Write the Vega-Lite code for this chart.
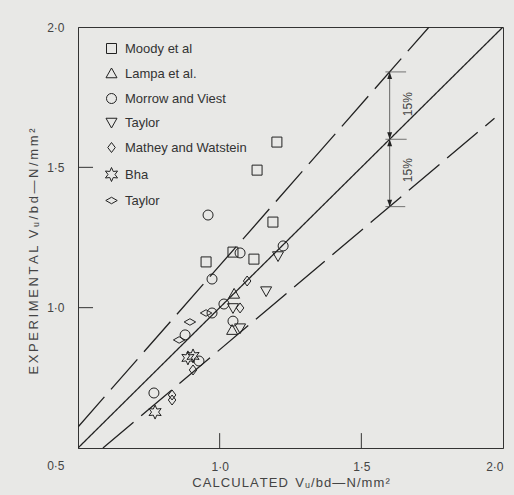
{
  "$schema": "https://vega.github.io/schema/vega-lite/v6.json",
  "width": 425,
  "height": 421,
  "autosize": {"type": "none"},
  "padding": {"left": 78, "top": 27, "right": 11, "bottom": 47},
  "background": "#e8e8e6",
  "config": {
    "view": {"stroke": "#333", "strokeWidth": 1},
    "font": "Liberation Sans",
    "axis": {
      "grid": false,
      "ticks": false,
      "domainColor": "#333",
      "domainWidth": 1,
      "labelColor": "#444",
      "labelFontSize": 12,
      "labelFont": "Liberation Sans",
      "titleColor": "#444",
      "titleFontSize": 13,
      "titleFontWeight": "normal",
      "titleFont": "Liberation Sans"
    }
  },
  "datasets": {
    "pts": [
      {"series": "Moody et al", "x": 1.202, "y": 1.59},
      {"series": "Moody et al", "x": 1.132, "y": 1.49},
      {"series": "Moody et al", "x": 1.188, "y": 1.305},
      {"series": "Moody et al", "x": 1.047, "y": 1.198},
      {"series": "Moody et al", "x": 0.952, "y": 1.163},
      {"series": "Moody et al", "x": 1.121, "y": 1.173},
      {"series": "Lampa et al.", "x": 1.051, "y": 1.049},
      {"series": "Lampa et al.", "x": 1.044, "y": 0.92},
      {"series": "Morrow and Viest", "x": 0.959, "y": 1.33},
      {"series": "Morrow and Viest", "x": 1.072, "y": 1.195},
      {"series": "Morrow and Viest", "x": 1.224, "y": 1.22},
      {"series": "Morrow and Viest", "x": 0.973, "y": 1.102},
      {"series": "Morrow and Viest", "x": 1.015, "y": 1.013},
      {"series": "Morrow and Viest", "x": 0.973, "y": 0.981},
      {"series": "Morrow and Viest", "x": 0.878, "y": 0.903},
      {"series": "Morrow and Viest", "x": 1.047, "y": 0.952},
      {"series": "Morrow and Viest", "x": 0.927, "y": 0.81},
      {"series": "Morrow and Viest", "x": 0.768, "y": 0.696},
      {"series": "Taylor", "x": 1.206, "y": 1.184},
      {"series": "Taylor", "x": 1.164, "y": 1.059},
      {"series": "Taylor", "x": 1.047, "y": 0.999},
      {"series": "Taylor", "x": 1.072, "y": 0.927},
      {"series": "Mathey and Watstein", "x": 1.097, "y": 1.095},
      {"series": "Mathey and Watstein", "x": 1.072, "y": 0.999},
      {"series": "Mathey and Watstein", "x": 0.906, "y": 0.778},
      {"series": "Mathey and Watstein", "x": 0.832, "y": 0.689},
      {"series": "Mathey and Watstein", "x": 0.832, "y": 0.671},
      {"series": "Bha", "x": 0.888, "y": 0.821},
      {"series": "Bha", "x": 0.906, "y": 0.828},
      {"series": "Bha", "x": 0.772, "y": 0.628},
      {"series": "Taylor ", "x": 0.952, "y": 0.981},
      {"series": "Taylor ", "x": 0.895, "y": 0.949},
      {"series": "Taylor ", "x": 0.857, "y": 0.885}
    ],
    "lines": [
      {"line": "solid", "x": 0.5, "y": 0.5},
      {"line": "solid", "x": 2.0, "y": 2.0},
      {"line": "upper", "x": 0.5, "y": 0.575},
      {"line": "upper", "x": 1.739, "y": 2.0},
      {"line": "lower", "x": 0.588, "y": 0.5},
      {"line": "lower", "x": 1.97, "y": 1.675}
    ],
    "xticks": [
      {"x": 1.0, "y": 0.5, "y2": 0.553},
      {"x": 1.5, "y": 0.5, "y2": 0.553}
    ],
    "yticks": [
      {"x": 0.5, "x2": 0.553, "y": 1.0},
      {"x": 0.5, "x2": 0.553, "y": 1.5}
    ],
    "vrule": [{"x": 1.6, "y": 1.36, "y2": 1.84}],
    "hticks": [
      {"x": 1.585, "x2": 1.658, "y": 1.84},
      {"x": 1.585, "x2": 1.66, "y": 1.6},
      {"x": 1.585, "x2": 1.655, "y": 1.36}
    ],
    "arrowsUp": [
      {"x": 1.6, "y": 1.84},
      {"x": 1.6, "y": 1.6}
    ],
    "arrowsDown": [
      {"x": 1.6, "y": 1.6},
      {"x": 1.6, "y": 1.36}
    ],
    "pct": [
      {"label": "15%", "x": 1.665, "y": 1.725},
      {"label": "15%", "x": 1.665, "y": 1.49}
    ]
  },
  "encoding": {
    "x": {
      "field": "x",
      "type": "quantitative",
      "scale": {"domain": [0.5, 2.0], "nice": false, "zero": false},
      "axis": {
        "values": [1.0, 1.5, 2.0],
        "labelExpr": "replace(format(datum.value, '.1f'), '.', '·')",
        "labelPadding": 13,
        "title": "C\u200aA\u200aL\u200aC\u200aU\u200aL\u200aA\u200aT\u200aE\u200aD\u00a0\u00a0V\u200aᵤ\u200a/\u200ab\u200ad\u200a—\u200aN\u200a/\u200am\u200am\u200a²",
        "titlePadding": 4
      }
    },
    "y": {
      "field": "y",
      "type": "quantitative",
      "scale": {"domain": [0.5, 2.0], "nice": false, "zero": false},
      "axis": {
        "values": [0.5, 1.0, 1.5, 2.0],
        "labelExpr": "replace(format(datum.value, '.1f'), '.', '·')",
        "labelPadding": 14,
        "labelOffset": {"condition": {"test": "datum.value == 0.5", "value": 17}, "value": 0},
        "title": "E\u2009X\u2009P\u2009E\u2009R\u2009I\u2009M\u2009E\u2009N\u2009T\u2009A\u2009L\u00a0\u00a0V\u2009ᵤ\u2009/\u2009b\u2009d\u2009—\u2009N\u2009/\u2009m\u2009m\u2009²",
        "titlePadding": 6,
        "titleY": 224
      }
    }
  },
  "layer": [
    {
      "data": {"name": "lines"},
      "mark": {"type": "line", "color": "#222", "strokeWidth": 1.3, "clip": true},
      "encoding": {
        "strokeDash": {
          "field": "line",
          "type": "nominal",
          "scale": {"domain": ["solid", "upper", "lower"], "range": [[1, 0], [40, 10], [40, 10]]},
          "legend": null
        }
      }
    },
    {
      "data": {"name": "xticks"},
      "mark": {"type": "rule", "color": "#333", "strokeWidth": 1},
      "encoding": {"y2": {"field": "y2"}}
    },
    {
      "data": {"name": "yticks"},
      "mark": {"type": "rule", "color": "#333", "strokeWidth": 1},
      "encoding": {"x2": {"field": "x2"}}
    },
    {
      "data": {"name": "vrule"},
      "mark": {"type": "rule", "color": "#444", "strokeWidth": 0.8},
      "encoding": {"y2": {"field": "y2"}}
    },
    {
      "data": {"name": "hticks"},
      "mark": {"type": "rule", "color": "#555", "strokeWidth": 0.8},
      "encoding": {"x2": {"field": "x2"}}
    },
    {
      "data": {"name": "arrowsUp"},
      "mark": {"type": "point", "filled": true, "color": "#222", "size": 49, "strokeWidth": 0, "opacity": 1, "shape": "M0,0L-0.7,2L0.7,2Z"}
    },
    {
      "data": {"name": "arrowsDown"},
      "mark": {"type": "point", "filled": true, "color": "#222", "size": 49, "strokeWidth": 0, "opacity": 1, "shape": "M0,0L-0.7,-2L0.7,-2Z"}
    },
    {
      "data": {"name": "pct"},
      "mark": {"type": "text", "angle": 270, "fontSize": 12, "color": "#444", "align": "center", "baseline": "middle", "font": "Liberation Sans"},
      "encoding": {"text": {"field": "label"}}
    },
    {
      "data": {"name": "pts"},
      "mark": {"type": "point", "filled": false, "color": "#222", "strokeWidth": 1, "size": 100, "opacity": 1},
      "encoding": {
        "shape": {
          "field": "series",
          "type": "nominal",
          "scale": {
            "domain": ["Moody et al", "Lampa et al.", "Morrow and Viest", "Taylor", "Mathey and Watstein", "Bha", "Taylor "],
            "range": [
              "M-1,-1L1,-1L1,1L-1,1Z",
              "M0,-1.1L1.1,0.85L-1.1,0.85Z",
              "circle",
              "M0,1.1L1.1,-0.85L-1.1,-0.85Z",
              "M0,-1L0.75,0L0,1L-0.75,0Z",
              "M0,-1.4L0.35,-0.606L1.212,-0.7L0.7,0L1.212,0.7L0.35,0.606L0,1.4L-0.35,0.606L-1.212,0.7L-0.7,0L-1.212,-0.7L-0.35,-0.606Z",
              "M-1.15,0L0,-0.65L1.15,0L0,0.65Z"
            ]
          },
          "legend": {
            "orient": "none",
            "legendX": 27,
            "legendY": 15,
            "title": null,
            "padding": 0,
            "labelFontSize": 13,
            "labelColor": "#333",
            "labelFont": "Liberation Sans",
            "labelOffset": 7,
            "rowPadding": 10,
            "symbolSize": 100,
            "symbolStrokeColor": "#222",
            "symbolStrokeWidth": 1,
            "symbolFillColor": "transparent"
          }
        }
      }
    }
  ]
}
